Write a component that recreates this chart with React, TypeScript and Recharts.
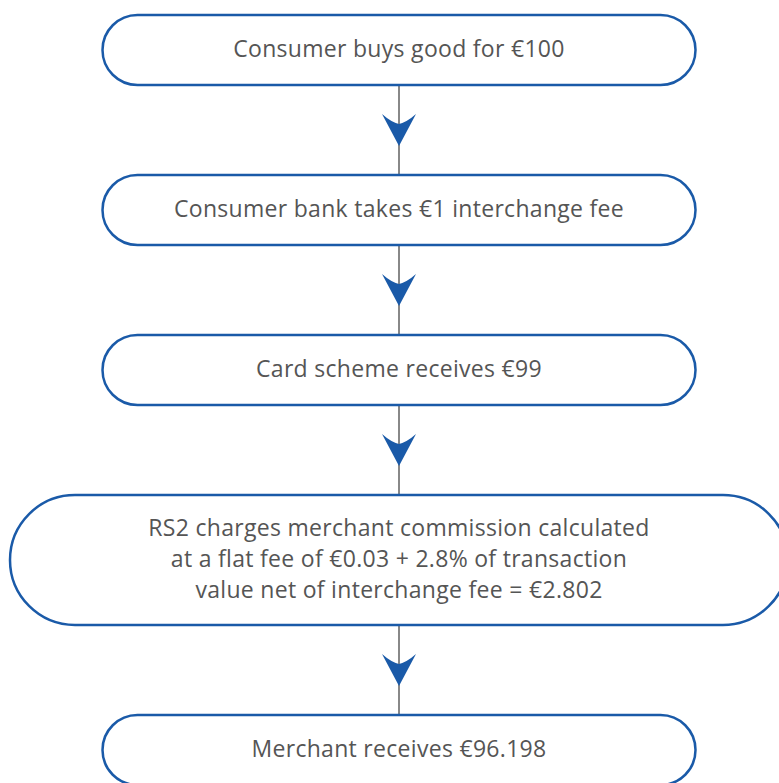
import React from 'react'
import { ComposedChart, Scatter, XAxis, YAxis } from 'recharts'

// flow steps, top to bottom
const steps = [
    'Consumer buys good for €100',
    'Consumer bank takes €1 interchange fee',
    'Card scheme receives €99',
    'RS2 charges merchant commission calculated|at a flat fee of €0.03 + 2.8% of transaction|value net of interchange fee = €2.802',
    'Merchant receives €96.198',
]

const W = 779
const H = 783
const CX = 399
const TOP = 15
const GAP = 90
const BLUE = '#1a5aa8'

// layout built from the steps
const nodes: any[] = []
const links: any[] = []
let cursor = TOP
steps.forEach((s, i) => {
    const lines = s.split('|')
    const h = 40 + lines.length * 30
    nodes.push({ x: CX, y: cursor + h / 2, lines, h, w: lines.length > 1 ? 778 : 593 })
    cursor += h
    if (i < steps.length - 1) {
        links.push({ x: CX, y: cursor + GAP / 2, len: GAP })
        cursor += GAP
    }
})

const StepBox = (props: any) => {
    const { cx, cy, payload } = props
    const { w, h, lines } = payload
    const lh = 31
    const y0 = cy - 2 - ((lines.length - 1) * lh) / 2
    return (
        <g>
            <rect x={cx - w / 2} y={cy - h / 2} width={w} height={h} rx={h / 2} ry={h / 2}
                fill="#fff" stroke={BLUE} strokeWidth={2.5} />
            <text x={cx} y={y0} textAnchor="middle" dominantBaseline="central"
                fontFamily="'Open Sans', sans-serif" fontSize={23} letterSpacing={0.3} fill="#555">
                {lines.map((l: string, i: number) => (
                    <tspan key={i} x={cx} y={y0 + i * lh}>{l}</tspan>
                ))}
            </text>
        </g>
    )
}

const Arrow = (props: any) => {
    const { cx, cy, payload } = props
    const half = payload.len / 2
    const t = cy - 16
    return (
        <g>
            <line x1={cx} y1={cy - half} x2={cx} y2={cy + half} stroke="#888" strokeWidth={2} />
            <path d={`M${cx - 17},${t} Q${cx - 8},${t + 8} ${cx},${t + 10} Q${cx + 8},${t + 8} ${cx + 17},${t} L${cx},${t + 32} Z`}
                fill={BLUE} />
        </g>
    )
}

export default function App() {
    return (
        <div style={{ position: 'absolute', left: 0, top: 0 }}>
            <ComposedChart width={W} height={H} margin={{ top: 0, right: 0, left: 0, bottom: 0 }}>
                <XAxis type="number" dataKey="x" domain={[0, W]} hide />
                <YAxis type="number" dataKey="y" domain={[0, H]} reversed hide />
                <Scatter data={links} shape={<Arrow />} isAnimationActive={false} />
                <Scatter data={nodes} shape={<StepBox />} isAnimationActive={false} />
            </ComposedChart>
        </div>
    )
}
